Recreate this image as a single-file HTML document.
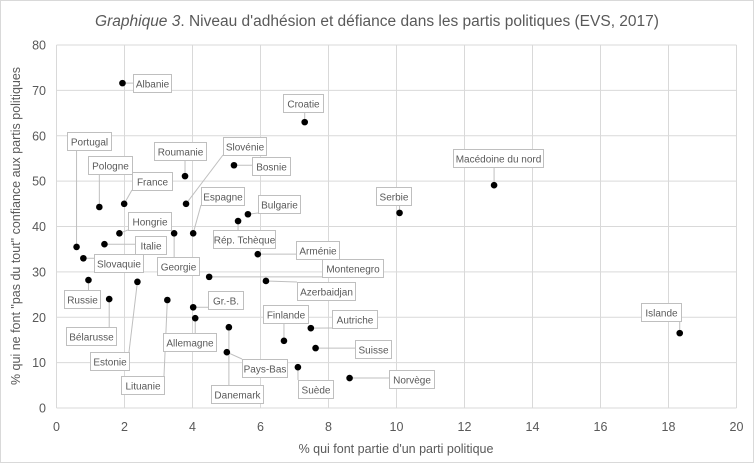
<!DOCTYPE html>
<html><head><meta charset="utf-8"><style>
body{margin:0;background:#fff;}
svg{display:block;font-family:"Liberation Sans","DejaVu Sans",sans-serif;}
</style></head><body>
<svg id="chart" width="754" height="463">
<rect x="0.5" y="0.5" width="753" height="462" fill="#fff" stroke="#d9d9d9"/>
<text x="377" y="26" text-anchor="middle" font-size="15.5" fill="#595959"><tspan font-style="italic">Graphique 3</tspan>. Niveau d'adhésion et défiance dans les partis politiques (EVS, 2017)</text>
<g id="grid"></g><g id="ticks"></g><g id="leaders"></g><g id="labels"></g><g id="points"></g>
<text x="396" y="453" text-anchor="middle" font-size="12.5" fill="#595959">% qui font partie d'un parti politique</text>
<text transform="translate(20,226) rotate(-90)" text-anchor="middle" font-size="12.5" fill="#595959">% qui ne font "pas du tout" confiance aux partis politiques</text>
</svg>
<script>
const countries=["Albanie","Croatie","Portugal","Pologne","France","Roumanie","Slovénie","Bosnie","Espagne","Bulgarie","Rép. Tchèque","Hongrie","Georgie","Italie","Slovaquie","Arménie","Montenegro","Azerbaidjan","Russie","Estonie","Bélarusse","Lituanie","Gr.-B.","Allemagne","Danemark","Pays-Bas","Finlande","Autriche","Suisse","Suède","Norvège","Serbie","Macédoine du nord","Islande"];
const membership=[1.94,7.3,0.59,1.26,1.99,3.78,3.81,5.22,4.02,5.63,5.34,1.85,3.46,1.41,0.79,5.92,4.49,6.16,0.94,2.38,1.55,3.26,4.02,4.08,5.07,5.01,6.69,7.48,7.62,7.1,8.62,10.09,12.87,18.33];
const distrust=[71.6,63,35.5,44.3,45,51.1,45,53.5,38.5,42.7,41.2,38.5,38.5,36.1,33,33.9,28.9,28,28.2,27.8,24,23.8,22.2,19.8,17.8,12.3,14.8,17.6,13.2,9,6.6,43,49.1,16.5];
const xTicks=[0,2,4,6,8,10,12,14,16,18,20];
const yTicks=[0,10,20,30,40,50,60,70,80];
// label box layout [left, top, width]
const boxes=[[133,74,38],[283,94,40],[67,132,44],[88,156,44],[132,172,40],[154,142,52],[223,137,43],[252,157,38],[201,187,43],[258,195,42],[213,230,62],[128,212,43],[157,257,42],[135,236,31],[94,254,49],[296,241,43],[322,259,61],[297,282,58],[64,290,36],[90,352,39],[66,327,50],[121,376,43],[208,291,35],[163,333,53],[211,385,52],[242,359,45],[263,305,45],[332,310,45],[355,340,36],[298,380,35],[389,370,45],[376,187,35],[453,149,90],[641,303,40]];
const NS="http://www.w3.org/2000/svg";
const X0=56.5,XS=34.0,Y0=408,YS=4.5375;
const xs=v=>X0+v*XS, ys=v=>Y0-v*YS;
function mk(tag,attrs,parent){const e=document.createElementNS(NS,tag);for(const k in attrs)e.setAttribute(k,attrs[k]);document.getElementById(parent).appendChild(e);return e;}
xTicks.forEach(t=>{
 const l=mk('line',{x1:xs(t),x2:xs(t),y1:ys(80),y2:ys(0),stroke:'#d9d9d9','stroke-width':1},'grid');
 
 
 const tx=mk('text',{x:xs(t),y:431,'text-anchor':'middle','font-size':12.5,fill:'#595959'},'ticks');tx.textContent=t;
 
 
});
yTicks.forEach(t=>{
 const l=mk('line',{x1:xs(0),x2:xs(20),y1:ys(t),y2:ys(t),stroke:'#d9d9d9','stroke-width':1},'grid');
 
 
 const tx=mk('text',{x:46,y:ys(t)+4.5,'text-anchor':'end','font-size':12.5,fill:'#595959'},'ticks');tx.textContent=t;
 
 
});
countries.forEach((c,i)=>{
 const px=xs(membership[i]),py=ys(distrust[i]);
 const [bl,bt,bw]=boxes[i],bh=18;
 const cx=Math.max(bl,Math.min(bl+bw,px)),cy=Math.max(bt,Math.min(bt+bh,py));
 const ln=mk('line',{x1:px,y1:py,x2:cx,y2:cy,stroke:'#bfbfbf','stroke-width':1},'leaders');
 
 
 const p=mk('circle',{cx:px,cy:py,r:3.3,fill:'#000'},'points');
 
 
 const r=mk('rect',{x:bl+0.5,y:bt+0.5,width:bw,height:bh,fill:'#fff',stroke:'#bfbfbf','stroke-width':1},'labels');
 
 
 const t=mk('text',{x:bl+bw/2+0.5,y:bt+13.5,'text-anchor':'middle','font-size':10,fill:'#595959'},'labels');t.textContent=c;
 
 
});
</script>
</body></html>
